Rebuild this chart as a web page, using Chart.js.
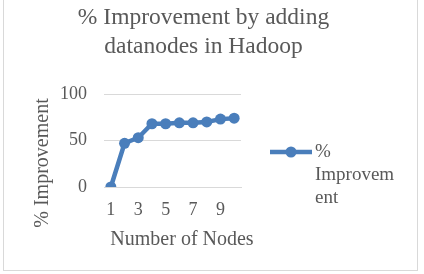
<!DOCTYPE html>
<html>
<head>
<meta charset="utf-8">
<script src="https://cdn.jsdelivr.net/npm/chart.js@4"></script>
<style>
  html, body { margin: 0; padding: 0; background: #fff; }
  #wrap { position: relative; width: 424px; height: 274px; }
  #frame { position: absolute; left: 3px; top: -1px; width: 413px; height: 270px; border: 1px solid #d9d9d9; }
</style>
</head>
<body>
<div id="wrap">
  <div id="frame"></div>
  <canvas id="chart" width="424" height="274"></canvas>
</div>
<script>
const nodes = ['1', '2', '3', '4', '5', '6', '7', '8', '9', '10'];
const improvement = [0, 47, 53, 68, 68, 69, 69, 70, 73, 74];
const yTicks = [0, 50, 100];

const seriesName = '% Improvement';
const titleLines = ['% Improvement by adding', 'datanodes in Hadoop'];
const legendLines = ['%', 'Improvem', 'ent'];

const grey = '#595959';
const blue = '#4a7ebb';
const serif = '"Liberation Serif", "Times New Roman", serif';

// titulos y leyenda dibujados a mano (como en Excel)
const textos = {
    id: 'textos',
    afterDraw(chart) {
        const c = chart.ctx;
        c.save();
        c.fillStyle = grey;
        c.textAlign = 'center';
        c.textBaseline = 'middle';

        c.font = '23.5px ' + serif;
        c.fillText(titleLines[0], 203.5, 18);
        c.fillText(titleLines[1], 203.5, 47);

        c.font = '20px ' + serif;
        c.fillText('Number of Nodes', 182, 240);

        c.save();
        c.translate(43, 163);
        c.rotate(-Math.PI / 2);
        c.fillText(seriesName, 0, 0);
        c.restore();

        // leyenda
        c.strokeStyle = blue;
        c.lineWidth = 4.5;
        c.beginPath();
        c.moveTo(270, 152);
        c.lineTo(312, 152);
        c.stroke();
        c.fillStyle = blue;
        c.beginPath();
        c.arc(291, 152, 5.5, 0, Math.PI * 2);
        c.fill();

        c.fillStyle = grey;
        c.textAlign = 'left';
        c.font = '19px ' + serif;
        legendLines.forEach((t, i) => c.fillText(t, 315, 152 + i * 23));
        c.restore();
    }
};

const chart = new Chart(document.getElementById('chart'), {
    type: 'line',
    data: {
        labels: nodes,
        datasets: [{
            label: seriesName,
            data: improvement,
            borderColor: blue,
            backgroundColor: blue,
            borderWidth: 4.5,
            pointRadius: 5.5,
            pointHoverRadius: 5.5,
            pointBackgroundColor: blue,
            pointBorderWidth: 0,
            tension: 0
        }]
    },
    options: {
        responsive: false,
        animation: false,
        layout: {
            padding: { left: 0, top: 94, right: 183, bottom: 37 }
        },
        plugins: {
            legend: { display: false },
            title: { display: false },
            tooltip: { enabled: false }
        },
        scales: {
            x: {
                offset: true,
                grid: { display: false, drawTicks: false },
                border: { display: true, color: '#d9d9d9', width: 1 },
                ticks: {
                    autoSkip: false,
                    maxRotation: 0,
                    padding: 12,
                    color: grey,
                    font: { family: serif, size: 18 },
                    callback: (v, i) => (i % 2 === 0 ? nodes[i] : '')
                },
                afterFit: (s) => { s.height = 50; }
            },
            y: {
                min: 0,
                max: 100,
                afterBuildTicks: (s) => { s.ticks = yTicks.map(v => ({ value: v })); },
                grid: { color: '#d9d9d9', lineWidth: 1, drawTicks: false },
                border: { display: false },
                ticks: {
                    padding: 17,
                    color: grey,
                    font: { family: serif, size: 18 }
                },
                afterFit: (s) => { s.width = 104; }
            }
        }
    },
    plugins: [textos]
});
</script>
</body>
</html>
